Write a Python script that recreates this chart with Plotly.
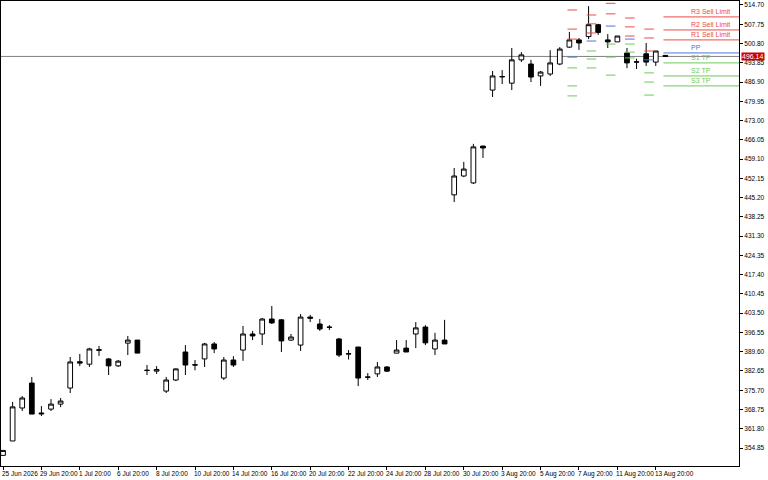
import plotly.graph_objects as go

opens = [352.8,357.4,369.3,378.3,367.5,368.9,370.7,376.5,386.0,385.1,390.1,387.0,384.5,392.7,393.8,382.8,382.6,375.4,379.4,389.5,384.9,387.0,392.4,
         380.1,386.6,390.2,396.0,396.0,401.4,401.1,393.8,392.0,402.1,399.6,398.5,394.2,388.9,391.3,380.5,381.6,384.1,389.1,390.9,396.0,398.5,390.6,393.8,
         446.2,453.0,450.5,463.8,484.0,488.9,486.5,494.9,493.4,489.1,489.8,493.4,499.5,502.1,503.3,507.6,502.1,501.4,497.4,494.2,497.1,494.1,496.5]
highs = [354.0,371.5,373.6,380.5,370.0,372.5,372.9,387.7,388.8,391.0,391.7,387.3,386.6,395.3,393.8,384.8,384.4,380.5,383.6,392.0,386.6,392.8,393.1,
         387.7,388.0,398.9,397.1,401.8,406.1,401.4,396.0,403.2,402.9,401.4,399.2,394.6,390.2,391.3,381.9,385.9,384.4,393.8,393.8,400.3,399.2,396.4,401.1,
         455.9,458.1,464.6,463.9,490.9,491.2,499.2,497.7,494.9,490.9,498.4,499.5,505.0,502.8,514.3,507.9,504.2,503.5,499.2,495.3,501.0,498.1,496.7]
lows = [352.2,357.4,368.2,367.1,366.4,368.2,369.6,374.7,384.4,384.1,388.1,381.2,384.1,388.4,389.1,381.2,381.6,374.7,379.0,381.2,382.9,384.1,389.1,
        379.4,384.1,386.3,393.8,392.0,399.6,389.5,393.5,389.9,400.3,397.1,397.4,387.7,386.8,377.2,379.4,380.5,382.3,389.1,389.5,390.9,392.0,388.4,392.4,
        443.6,452.6,450.1,459.5,481.5,486.2,484.0,494.1,486.9,485.5,489.1,493.0,499.2,498.5,502.4,503.9,499.2,501.4,491.9,491.6,492.7,492.7,495.9]
closes = [354.0,369.7,372.9,367.1,367.2,370.7,371.8,385.9,385.5,390.6,390.3,384.5,386.2,393.8,389.1,382.9,383.2,379.4,383.4,384.8,384.8,392.4,390.6,
          386.6,384.8,396.0,395.3,401.4,400.0,393.5,394.9,402.1,401.7,397.8,398.4,388.4,388.8,380.1,380.4,384.1,382.6,390.2,389.5,398.2,392.8,393.8,392.4,
          453.0,455.5,463.5,463.1,489.1,488.8,494.9,496.7,488.7,490.5,493.8,498.8,502.1,501.0,507.6,504.8,501.4,503.5,493.8,494.1,494.1,498.1,496.14]
opens[0] = 352.2

date_labels = ["25 Jun 2026","29 Jun 20:00","1 Jul 20:00","6 Jul 20:00","8 Jul 20:00","10 Jul 20:00",
               "14 Jul 20:00","16 Jul 20:00","20 Jul 20:00","22 Jul 20:00","24 Jul 20:00","28 Jul 20:00",
               "30 Jul 20:00","3 Aug 20:00","5 Aug 20:00","7 Aug 20:00","11 Aug 20:00","13 Aug 20:00"]
y_ticks = [514.70,507.75,500.80,493.85,486.90,479.95,473.00,466.05,459.10,452.15,445.20,438.25,431.30,
           424.35,417.40,410.45,403.50,396.55,389.60,382.65,375.70,368.75,361.80,354.85]

# historical pivot columns: center bar index, levels R3,R2,R1,PP,S1,S2,S3
pivot_centers = [59.3, 61.3, 63.3, 65.3, 67.3]
pivot_levels = [[512.9,506.0,502.4,495.9,492.0,485.5,481.9],
                [511.1,507.9,504.6,501.7,498.1,495.2,492.0],
                [520.0,515.3,511.5,507.1,500.6,495.9,489.4],
                [510.0,506.8,503.5,502.4,500.6,497.7,495.6],
                [506.0,502.8,498.1,494.9,490.2,486.9,482.2]]
current_names = ["R3 Sell Limit","R2 Sell Limit","R1 Sell Limit","PP","S1 TP","S2 TP","S3 TP"]
current_levels = [510.4,505.7,502.1,497.4,493.8,489.1,485.5]
last_price = 496.14

RED, BLUE, GREEN = "#f04848", "#4f72e0", "#6acb5a"
lvl_colors = [RED, RED, RED, BLUE, GREEN, GREEN, GREEN]
FONT = "Liberation Sans"

x = list(range(len(opens)))
fig = go.Figure()
fig.add_trace(go.Candlestick(x=x, open=opens, high=highs, low=lows, close=closes,
    increasing=dict(line=dict(color="#000000", width=1), fillcolor="#ffffff"),
    decreasing=dict(line=dict(color="#000000", width=1), fillcolor="#000000"),
    whiskerwidth=0, showlegend=False, hoverinfo="skip"))

shapes = []
shapes.append(dict(type="line", xref="paper", x0=0, x1=1, yref="y", y0=last_price, y1=last_price,
                   line=dict(color="#808080", width=1), layer="below"))
for c, lv in zip(pivot_centers, pivot_levels):
    for v, col in zip(lv, lvl_colors):
        shapes.append(dict(type="line", xref="x", x0=c-0.5, x1=c+0.5, yref="y", y0=v, y1=v,
                           line=dict(color=col, width=1)))
annots = []
for name, v, col in zip(current_names, current_levels, lvl_colors):
    shapes.append(dict(type="line", xref="x", x0=68.8, x1=76.7, yref="y", y0=v, y1=v,
                       line=dict(color=col, width=1)))
    annots.append(dict(x=71.5, y=v, xref="x", yref="y", text=name, showarrow=False,
                       xanchor="left", yanchor="bottom", yshift=0,
                       font=dict(size=7, color=col, family=FONT)))
annots.append(dict(x=1.0, y=last_price, xref="paper", yref="y", text="496.14", showarrow=False,
                   xanchor="left", xshift=2, bgcolor="#cc0000", font=dict(size=7, color="white", family=FONT),
                   borderpad=0))
for i, lab in enumerate(date_labels):
    annots.append(dict(x=i*4, y=0, xref="x", yref="paper", text=lab, showarrow=False,
                       xanchor="left", yanchor="top", yshift=-2, xshift=-3,
                       font=dict(size=6.5, color="#000000", family=FONT)))

fig.update_layout(
    width=768, height=480, paper_bgcolor="white", plot_bgcolor="white",
    margin=dict(l=1, r=29, t=1, b=14), shapes=shapes, annotations=annots,
    xaxis=dict(range=[-0.21, 76.67], rangeslider=dict(visible=False), showgrid=False, zeroline=False,
               tickvals=[i*4 for i in range(len(date_labels))], ticktext=[""]*len(date_labels),
               ticks="outside", ticklen=3, tickcolor="#000", showline=True, linecolor="#000", mirror=True),
    yaxis=dict(range=[348.37, 516.14], side="right", showgrid=False, zeroline=False,
               tickvals=y_ticks, ticktext=[f"{v:.2f}" for v in y_ticks], ticks="outside", ticklen=3,
               tickcolor="#000", tickfont=dict(size=6.5, family=FONT, color="#000"),
               showline=True, linecolor="#000", mirror=True),
    font=dict(family=FONT),
)
fig.write_html("out.html", config={"displayModeBar": False},
               post_script="document.body.style.margin='0';document.body.style.overflow='hidden';")
